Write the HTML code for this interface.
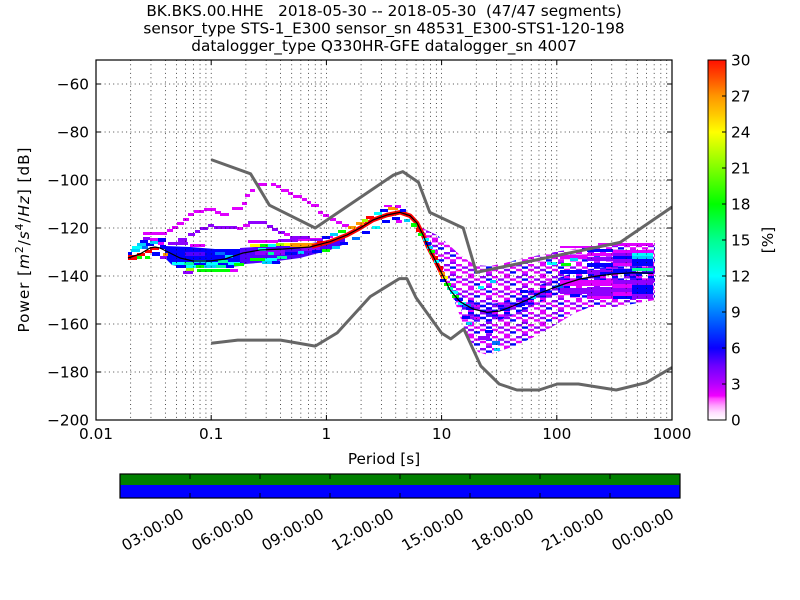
<!DOCTYPE html>
<html><head><meta charset="utf-8"><style>
html,body{margin:0;padding:0;background:#fff;}
svg{display:block;}
text{font-family:"DejaVu Sans","Liberation Sans",sans-serif;font-size:15.28px;fill:#000;white-space:pre;}
.m{fill:#e000ff}.p{fill:#8f00ff}.v{fill:#5000ff}.b{fill:#0000ff}.l{fill:#0070ff}.c{fill:#00d0ff}.cy{fill:#00ffff}.a{fill:#00ffa0}.g{fill:#00ff00}.yg{fill:#a0ff00}.y{fill:#ffff00}.o{fill:#ff9900}.r{fill:#ff0000}
.grid line{stroke:#111;stroke-width:0.75;stroke-dasharray:1,3.3;}
.tk line{stroke:#000;stroke-width:1;}
</style></head><body>
<svg width="800" height="600" viewBox="0 0 800 600" xmlns="http://www.w3.org/2000/svg">
<defs>
<clipPath id="ax"><rect x="96" y="60" width="576" height="360"/></clipPath>
<linearGradient id="cb" x1="0" y1="1" x2="0" y2="0">
<stop offset="0" stop-color="#ffffff"/><stop offset="0.02" stop-color="#ffe0ff"/><stop offset="0.04" stop-color="#ffa0ff"/><stop offset="0.06" stop-color="#ff40ff"/><stop offset="0.067" stop-color="#f000ff"/><stop offset="0.1" stop-color="#b400ff"/><stop offset="0.15" stop-color="#6e00ff"/><stop offset="0.2" stop-color="#0a00ff"/><stop offset="0.25" stop-color="#0040ff"/><stop offset="0.3" stop-color="#0080ff"/><stop offset="0.35" stop-color="#00c0ff"/><stop offset="0.4" stop-color="#00ffff"/><stop offset="0.45" stop-color="#00ffc8"/><stop offset="0.5" stop-color="#00ff90"/><stop offset="0.55" stop-color="#00ff48"/><stop offset="0.6" stop-color="#00ff00"/><stop offset="0.7" stop-color="#80ff00"/><stop offset="0.8" stop-color="#ffff00"/><stop offset="0.85" stop-color="#ffc800"/><stop offset="0.9" stop-color="#ff9600"/><stop offset="0.95" stop-color="#ff5000"/><stop offset="1" stop-color="#ff1000"/>
</linearGradient>
<pattern id="pf" width="36" height="12" patternUnits="userSpaceOnUse">
<rect x="0" y="0" width="6" height="2.4" fill="#e000ff"/><rect x="12" y="0" width="6" height="2.4" fill="#8f00ff"/><rect x="24" y="0" width="6" height="2.4" fill="#e000ff"/>
<rect x="6" y="2.4" width="6" height="2.4" fill="#e000ff"/><rect x="18" y="2.4" width="6" height="2.4" fill="#0000ff"/><rect x="30" y="2.4" width="6" height="2.4" fill="#8f00ff"/>
<rect x="0" y="4.8" width="6" height="2.4" fill="#8f00ff"/><rect x="12" y="4.8" width="6" height="2.4" fill="#e000ff"/><rect x="24" y="4.8" width="6" height="2.4" fill="#e000ff"/>
<rect x="6" y="7.2" width="6" height="2.4" fill="#0000ff"/><rect x="18" y="7.2" width="6" height="2.4" fill="#e000ff"/><rect x="30" y="7.2" width="6" height="2.4" fill="#e000ff"/>
<rect x="0" y="9.6" width="6" height="2.4" fill="#e000ff"/><rect x="18" y="9.6" width="6" height="2.4" fill="#8f00ff"/>
</pattern>
<pattern id="pb" width="36" height="12" patternUnits="userSpaceOnUse">
<rect x="0" y="0" width="6" height="2.4" fill="#0000ff"/><rect x="12" y="0" width="6" height="2.4" fill="#8f00ff"/><rect x="18" y="0" width="6" height="2.4" fill="#0000ff"/><rect x="24" y="0" width="6" height="2.4" fill="#e000ff"/>
<rect x="0" y="2.4" width="6" height="2.4" fill="#8f00ff"/><rect x="6" y="2.4" width="6" height="2.4" fill="#0000ff"/><rect x="18" y="2.4" width="6" height="2.4" fill="#5000ff"/><rect x="24" y="2.4" width="6" height="2.4" fill="#0000ff"/><rect x="30" y="2.4" width="6" height="2.4" fill="#e000ff"/>
<rect x="6" y="4.8" width="6" height="2.4" fill="#e000ff"/><rect x="12" y="4.8" width="6" height="2.4" fill="#0000ff"/><rect x="24" y="4.8" width="6" height="2.4" fill="#8f00ff"/><rect x="30" y="4.8" width="6" height="2.4" fill="#0000ff"/>
<rect x="0" y="7.2" width="6" height="2.4" fill="#0000ff"/><rect x="6" y="7.2" width="6" height="2.4" fill="#8f00ff"/><rect x="18" y="7.2" width="6" height="2.4" fill="#0000ff"/><rect x="30" y="7.2" width="6" height="2.4" fill="#5000ff"/>
<rect x="0" y="9.6" width="6" height="2.4" fill="#e000ff"/><rect x="12" y="9.6" width="6" height="2.4" fill="#0000ff"/><rect x="18" y="9.6" width="6" height="2.4" fill="#8f00ff"/><rect x="24" y="9.6" width="6" height="2.4" fill="#0000ff"/>
</pattern>
</defs>
<rect width="800" height="600" fill="#fff"/>

<!-- title -->
<text x="384" y="16" text-anchor="middle" xml:space="preserve">BK.BKS.00.HHE   2018-05-30 -- 2018-05-30  (47/47 segments)</text>
<text x="384" y="33.6" text-anchor="middle">sensor_type STS-1_E300 sensor_sn 48531_E300-STS1-120-198</text>
<text x="384" y="51.2" text-anchor="middle">datalogger_type Q330HR-GFE datalogger_sn 4007</text>

<g clip-path="url(#ax)">
<!-- fan region (long periods) -->
<polygon fill="url(#pf)" points="420,227 437,235 447,243 460,255 475,265 490,266 505,263 520,259 540,255 560,251 580,248 600,246 615,243 655,243 655,300 615,307 590,307 575,313 560,322 545,331 530,339 515,346 500,351 488,355 478,352 470,340 463,325 456,305 450,290 440,270 434,258 428,247"/>
<polygon fill="url(#pb)" points="455,290 470,300 487,304 500,303 513,298 527,292 540,285 553,280 567,275 580,271 597,268 613,266 655,266 655,282 613,281 597,284 580,287 567,291 553,296 540,302 527,309 513,315 500,320 487,322 473,320 462,312"/>

<!-- region A core -->
<polygon class="b" points="165,246 190,247 215,249 240,249 250,252 250,262 240,266 215,268 190,268 172,265 165,258"/>
<polygon class="v" points="240,248 270,246 300,245 330,240 345,236 345,244 330,250 300,258 270,262 245,264 240,262"/>
<rect class="p" x="255" y="250" width="30" height="5"/><rect class="b" x="285" y="252" width="12" height="3"/><rect class="p" x="300" y="247" width="20" height="4"/>
<rect class="r" x="128" y="255" width="9" height="5"/><rect class="r" x="137" y="253" width="8" height="3"/><rect class="g" x="137" y="256" width="5" height="3"/><rect class="b" x="128" y="252" width="4" height="3"/><rect class="c" x="131" y="249" width="9" height="3"/><rect class="cy" x="132" y="246" width="10" height="3"/><rect class="l" x="142" y="246" width="6" height="3"/><rect class="r" x="145" y="250" width="7" height="3"/><rect class="r" x="150" y="247" width="9" height="3"/><rect class="c" x="137" y="243" width="9" height="3"/><rect class="b" x="146" y="243" width="8" height="3"/><rect class="b" x="140" y="240" width="8" height="3"/><rect class="m" x="150" y="238" width="10" height="3"/><rect class="p" x="143" y="237" width="7" height="3"/><rect class="c" x="150" y="241" width="8" height="3"/><rect class="b" x="158" y="238" width="8" height="4"/><rect class="m" x="158" y="242" width="6" height="3"/><rect class="b" x="160" y="245" width="6" height="4"/><rect class="o" x="163" y="253" width="5" height="3"/><rect class="b" x="152" y="252" width="8" height="4"/><rect class="p" x="160" y="256" width="7" height="3"/><rect class="g" x="145" y="256" width="5" height="3"/>
<rect class="v" x="185" y="252" width="20" height="4"/><rect class="l" x="215" y="252" width="10" height="3"/><rect class="c" x="225" y="255" width="8" height="3"/>
<rect class="p" x="168" y="242" width="20" height="3"/><rect class="m" x="190" y="244" width="15" height="3"/><rect class="m" x="248" y="240" width="30" height="3"/><rect class="p" x="278" y="239" width="20" height="3"/><rect class="m" x="298" y="238" width="25" height="3"/><rect class="m" x="323" y="236" width="10" height="2"/>
<rect class="cy" x="258" y="248" width="8" height="3"/><rect class="a" x="268" y="252" width="6" height="3"/><rect class="c" x="298" y="251" width="6" height="3"/>
<!-- bottom fringe -->
<rect class="cy" x="172" y="262" width="12" height="3"/><rect class="a" x="184" y="262" width="10" height="3"/><rect class="c" x="194" y="260" width="12" height="3"/><rect class="cy" x="206" y="262" width="12" height="3"/><rect class="a" x="218" y="260" width="10" height="3"/><rect class="cy" x="228" y="262" width="12" height="3"/><rect class="b" x="176" y="265" width="10" height="3"/><rect class="cy" x="186" y="265" width="10" height="3"/><rect class="g" x="196" y="265" width="8" height="3"/><rect class="c" x="204" y="265" width="12" height="3"/><rect class="a" x="216" y="265" width="10" height="3"/><rect class="b" x="226" y="265" width="8" height="3"/><rect class="g" x="234" y="263" width="10" height="3"/>
<rect class="g" x="197" y="269" width="33" height="3"/><rect class="yg" x="186" y="268" width="8" height="3"/><rect class="p" x="183" y="271" width="10" height="3"/><rect class="m" x="230" y="269" width="8" height="3"/>
<rect class="g" x="250" y="258" width="15" height="3"/><rect class="cy" x="265" y="258" width="12" height="3"/><rect class="a" x="277" y="256" width="10" height="3"/><rect class="c" x="262" y="261" width="10" height="3"/><rect class="b" x="272" y="261" width="8" height="3"/>
<!-- top row of right part -->
<rect class="y" x="250" y="244" width="10" height="3"/><rect class="g" x="260" y="244" width="8" height="3"/><rect class="cy" x="268" y="244" width="8" height="3"/><rect class="yg" x="276" y="243" width="8" height="3"/><rect class="o" x="290" y="243" width="27" height="4"/><rect class="y" x="284" y="243" width="6" height="3"/><rect class="r" x="317" y="241" width="8" height="3"/>
<!-- upper outlier arch -->
<rect class="m" x="143" y="232" width="24" height="3"/><rect class="m" x="167" y="229" width="6" height="3"/><rect class="m" x="172" y="226" width="6" height="3"/><rect class="m" x="177" y="222" width="7" height="3"/><rect class="m" x="183" y="218" width="6" height="3"/><rect class="m" x="188" y="213" width="6" height="3"/><rect class="m" x="194" y="210" width="10" height="3"/><rect class="m" x="204" y="208" width="12" height="3"/><rect class="m" x="215" y="211" width="6" height="3"/><rect class="m" x="220" y="213" width="9" height="3"/><rect class="m" x="232" y="207" width="11" height="3"/><rect class="m" x="242" y="202" width="5" height="3"/><rect class="m" x="245" y="194" width="5" height="3"/><rect class="m" x="250" y="189" width="5" height="3"/><rect class="m" x="257" y="183" width="10" height="3"/><rect class="m" x="271" y="183" width="5" height="3"/><rect class="m" x="276" y="185" width="5" height="3"/><rect class="m" x="281" y="189" width="8" height="3"/><rect class="m" x="288" y="192" width="5" height="3"/><rect class="m" x="293" y="195" width="9" height="3"/><rect class="m" x="302" y="198" width="5" height="3"/><rect class="m" x="307" y="201" width="4" height="3"/><rect class="m" x="311" y="204" width="8" height="3"/><rect class="m" x="318" y="211" width="5" height="3"/><rect class="m" x="323" y="214" width="6" height="3"/><rect class="m" x="330" y="218" width="6" height="3"/><rect class="m" x="336" y="221" width="6" height="3"/><rect class="m" x="342" y="224" width="7" height="3"/><rect class="m" x="349" y="226" width="7" height="3"/>
<!-- second arch -->
<rect class="p" x="178" y="238" width="9" height="4"/><rect class="p" x="188" y="233" width="7" height="3"/><rect class="p" x="195" y="230" width="5" height="3"/><rect class="p" x="200" y="227" width="8" height="3"/><rect class="p" x="208" y="224" width="6" height="3"/><rect class="p" x="214" y="226" width="23" height="3"/><rect class="m" x="237" y="227" width="6" height="3"/><rect class="m" x="243" y="224" width="7" height="3"/><rect class="p" x="248" y="221" width="19" height="3"/><rect class="p" x="267" y="225" width="6" height="3"/><rect class="p" x="272" y="228" width="6" height="3"/><rect class="p" x="278" y="231" width="7" height="3"/><rect class="m" x="284" y="233" width="6" height="3"/><rect class="p" x="290" y="236" width="20" height="3"/><rect class="p" x="310" y="239" width="13" height="2"/>
<!-- microseism band -->
<polyline fill="none" stroke="#ff0000" stroke-width="4.5" stroke-linejoin="round" points="312,246.5 330,241.7 347,235 360,228 373,220 387,215 400,212.3 410,215.7 417,223 423,235 428,246.7 434,258 440,270 445,281"/>
<rect class="b" x="322" y="236" width="8" height="3"/><rect class="c" x="330" y="233" width="8" height="3"/><rect class="g" x="338" y="230" width="8" height="3"/><rect class="o" x="348" y="226" width="8" height="3"/><rect class="o" x="356" y="222" width="8" height="3"/><rect class="yg" x="362" y="219" width="6" height="3"/><rect class="r" x="366" y="216" width="8" height="3"/><rect class="cy" x="374" y="212" width="8" height="3"/><rect class="b" x="380" y="209" width="8" height="3"/><rect class="o" x="388" y="207" width="10" height="3"/><rect class="m" x="384" y="205" width="8" height="2"/><rect class="m" x="395" y="205" width="6" height="3"/><rect class="b" x="400" y="209" width="6" height="3"/>
<rect class="b" x="312" y="250" width="10" height="3"/><rect class="g" x="322" y="249" width="8" height="3"/><rect class="c" x="332" y="246" width="8" height="3"/><rect class="b" x="340" y="242" width="8" height="3"/><rect class="l" x="352" y="237" width="8" height="3"/><rect class="b" x="362" y="231" width="8" height="3"/><rect class="cy" x="372" y="226" width="8" height="3"/><rect class="b" x="382" y="220" width="8" height="3"/><rect class="b" x="392" y="217" width="8" height="3"/><rect class="m" x="396" y="220" width="6" height="3"/><rect class="c" x="404" y="219" width="6" height="3"/>
<!-- descent -->
<rect class="g" x="411" y="223" width="6" height="4"/><rect class="r" x="416" y="228" width="6" height="4"/><rect class="g" x="418" y="233" width="5" height="3"/><rect class="cy" x="423" y="238" width="6" height="3"/><rect class="b" x="425" y="242" width="6" height="3"/><rect class="c" x="427" y="246" width="6" height="3"/><rect class="g" x="429" y="250" width="6" height="3"/><rect class="r" x="432" y="256" width="6" height="4"/><rect class="cy" x="434" y="260" width="5" height="3"/><rect class="r" x="437" y="266" width="6" height="4"/><rect class="o" x="439" y="272" width="6" height="3"/><rect class="y" x="442" y="276" width="6" height="3"/><rect class="g" x="444" y="283" width="7" height="3"/><rect class="a" x="447" y="287" width="6" height="3"/><rect class="cy" x="450" y="291" width="8" height="3"/><rect class="g" x="452" y="295" width="7" height="3"/><rect class="b" x="455" y="298" width="8" height="3"/><rect class="cy" x="458" y="302" width="8" height="3"/><rect class="l" x="463" y="304" width="8" height="3"/><rect class="b" x="466" y="307" width="8" height="3"/><rect class="b" x="440" y="279" width="6" height="3"/>
<!-- right blocks -->
<rect class="m" x="598" y="243" width="55" height="3"/><rect class="m" x="560" y="246" width="38" height="2"/><rect class="m" x="613" y="250" width="40" height="3"/><rect class="b" x="587" y="249" width="26" height="3"/><rect class="p" x="613" y="253" width="19" height="3"/><rect class="cy" x="632" y="253" width="21" height="3"/><rect class="b" x="613" y="256" width="19" height="3"/><rect class="c" x="632" y="256" width="21" height="3"/><rect class="m" x="587" y="253" width="26" height="3"/><rect class="p" x="587" y="257" width="26" height="4"/><rect class="p" x="613" y="259" width="19" height="4"/><rect class="b" x="632" y="259" width="21" height="4"/><rect class="m" x="613" y="263" width="19" height="3"/><rect class="b" x="632" y="263" width="21" height="3"/><rect class="b" x="587" y="263" width="26" height="4"/><rect class="a" x="632" y="268" width="21" height="3"/><rect class="b" x="613" y="269" width="19" height="3"/><rect class="p" x="587" y="270" width="26" height="4"/><rect class="b" x="600" y="272" width="53" height="2"/><rect class="m" x="560" y="255" width="27" height="4"/><rect class="c" x="570" y="258" width="8" height="3"/><rect class="g" x="561" y="263" width="10" height="3"/><rect class="b" x="560" y="270" width="27" height="4"/>
<rect class="p" x="613" y="280" width="19" height="4"/><rect class="m" x="613" y="284" width="19" height="4"/><rect class="p" x="613" y="288" width="19" height="4"/><rect class="m" x="613" y="292" width="19" height="4"/><rect class="b" x="613" y="296" width="19" height="3"/><rect class="p" x="632" y="280" width="21" height="5"/><rect class="b" x="632" y="285" width="21" height="5"/><rect class="b" x="632" y="290" width="21" height="4"/><rect class="p" x="632" y="294" width="21" height="5"/><rect class="m" x="587" y="280" width="26" height="6"/><rect class="p" x="587" y="287" width="26" height="9"/><rect class="m" x="587" y="296" width="26" height="3"/><rect class="m" x="560" y="280" width="27" height="6"/><rect class="p" x="560" y="288" width="27" height="6"/><rect class="b" x="570" y="294" width="10" height="3"/>
<rect class="b" x="500" y="308" width="10" height="3"/><rect class="b" x="515" y="303" width="10" height="3"/><rect class="c" x="530" y="296" width="6" height="3"/><rect class="b" x="540" y="290" width="10" height="3"/><rect class="l" x="555" y="285" width="8" height="3"/><rect class="b" x="520" y="290" width="8" height="3"/><rect class="cy" x="478" y="286" width="6" height="3"/><rect class="c" x="490" y="280" width="6" height="3"/><rect class="cy" x="547" y="262" width="10" height="3"/><rect class="b" x="485" y="330" width="8" height="3"/><rect class="l" x="492" y="341" width="8" height="4"/><rect class="c" x="494" y="348" width="6" height="3"/><rect class="p" x="478" y="336" width="12" height="4"/><rect class="b" x="462" y="316" width="8" height="3"/><rect class="c" x="466" y="322" width="6" height="3"/>
</g>

<!-- grid -->
<g class="grid">
<line x1="130.68" y1="60" x2="130.68" y2="420"/><line x1="150.96" y1="60" x2="150.96" y2="420"/><line x1="165.36" y1="60" x2="165.36" y2="420"/><line x1="176.52" y1="60" x2="176.52" y2="420"/><line x1="185.64" y1="60" x2="185.64" y2="420"/><line x1="193.36" y1="60" x2="193.36" y2="420"/><line x1="200.04" y1="60" x2="200.04" y2="420"/><line x1="205.93" y1="60" x2="205.93" y2="420"/>
<line x1="211.2" y1="60" x2="211.2" y2="420"/><line x1="245.88" y1="60" x2="245.88" y2="420"/><line x1="266.16" y1="60" x2="266.16" y2="420"/><line x1="280.56" y1="60" x2="280.56" y2="420"/><line x1="291.72" y1="60" x2="291.72" y2="420"/><line x1="300.84" y1="60" x2="300.84" y2="420"/><line x1="308.56" y1="60" x2="308.56" y2="420"/><line x1="315.24" y1="60" x2="315.24" y2="420"/><line x1="321.13" y1="60" x2="321.13" y2="420"/>
<line x1="326.4" y1="60" x2="326.4" y2="420"/><line x1="361.08" y1="60" x2="361.08" y2="420"/><line x1="381.36" y1="60" x2="381.36" y2="420"/><line x1="395.76" y1="60" x2="395.76" y2="420"/><line x1="406.92" y1="60" x2="406.92" y2="420"/><line x1="416.04" y1="60" x2="416.04" y2="420"/><line x1="423.76" y1="60" x2="423.76" y2="420"/><line x1="430.44" y1="60" x2="430.44" y2="420"/><line x1="436.33" y1="60" x2="436.33" y2="420"/>
<line x1="441.6" y1="60" x2="441.6" y2="420"/><line x1="476.28" y1="60" x2="476.28" y2="420"/><line x1="496.56" y1="60" x2="496.56" y2="420"/><line x1="510.96" y1="60" x2="510.96" y2="420"/><line x1="522.12" y1="60" x2="522.12" y2="420"/><line x1="531.24" y1="60" x2="531.24" y2="420"/><line x1="538.96" y1="60" x2="538.96" y2="420"/><line x1="545.64" y1="60" x2="545.64" y2="420"/><line x1="551.53" y1="60" x2="551.53" y2="420"/>
<line x1="556.8" y1="60" x2="556.8" y2="420"/><line x1="591.48" y1="60" x2="591.48" y2="420"/><line x1="611.76" y1="60" x2="611.76" y2="420"/><line x1="626.16" y1="60" x2="626.16" y2="420"/><line x1="637.32" y1="60" x2="637.32" y2="420"/><line x1="646.44" y1="60" x2="646.44" y2="420"/><line x1="654.16" y1="60" x2="654.16" y2="420"/><line x1="660.84" y1="60" x2="660.84" y2="420"/><line x1="666.73" y1="60" x2="666.73" y2="420"/>
<line x1="96" y1="84" x2="672" y2="84"/><line x1="96" y1="132" x2="672" y2="132"/><line x1="96" y1="180" x2="672" y2="180"/><line x1="96" y1="228" x2="672" y2="228"/><line x1="96" y1="276" x2="672" y2="276"/><line x1="96" y1="324" x2="672" y2="324"/><line x1="96" y1="372" x2="672" y2="372"/>
</g>

<g clip-path="url(#ax)">
<polyline fill="none" stroke="#666" stroke-width="3" stroke-linejoin="round" points="211.2,159.6 250.6,173.8 269.4,205.2 315.2,228 393.2,175.2 402.8,171.6 418.5,182.4 429.8,212.4 463.2,228 476.3,272.4 620.2,242.4 672,207"/>
<polyline fill="none" stroke="#666" stroke-width="3" stroke-linejoin="round" points="211.2,343.2 237.7,340.1 280.6,340.1 315.2,346.1 337.2,332.9 370.2,296.6 399.4,278.6 406.9,278.6 416,297.6 441.6,333.1 450.7,338.9 463.8,329 480.8,366 499.2,384 516.9,390 539,390 557.3,384 578.4,384 616.2,390 646.4,382.6 672,367.5"/>
<polyline fill="none" stroke="#000" stroke-width="1.2" stroke-linejoin="round" points="128,258 140,254 150,248 155,247 160,248 170,253 180,258 193,261 210,261 225,259 243,253 260,250 283,249 310,247 330,241.7 347,235 360,228 373,220 387,215 400,212.3 410,215.7 417,223 423,235 428,246.7 434,258 440,270 450,290 460,301.7 473,309 487,312.3 500,311 513,306 527,300 540,293 553,288 567,283 580,279 597,276 613,274 633,272.7 653,273.3"/>
</g>

<!-- ticks -->
<g class="tk">
<line x1="96" y1="84" x2="101" y2="84"/><line x1="96" y1="132" x2="101" y2="132"/><line x1="96" y1="180" x2="101" y2="180"/><line x1="96" y1="228" x2="101" y2="228"/><line x1="96" y1="276" x2="101" y2="276"/><line x1="96" y1="324" x2="101" y2="324"/><line x1="96" y1="372" x2="101" y2="372"/>
<line x1="672" y1="84" x2="667" y2="84"/><line x1="672" y1="132" x2="667" y2="132"/><line x1="672" y1="180" x2="667" y2="180"/><line x1="672" y1="228" x2="667" y2="228"/><line x1="672" y1="276" x2="667" y2="276"/><line x1="672" y1="324" x2="667" y2="324"/><line x1="672" y1="372" x2="667" y2="372"/>
<line x1="211.2" y1="420" x2="211.2" y2="415"/><line x1="326.4" y1="420" x2="326.4" y2="415"/><line x1="441.6" y1="420" x2="441.6" y2="415"/><line x1="556.8" y1="420" x2="556.8" y2="415"/>
<line x1="211.2" y1="60" x2="211.2" y2="65"/><line x1="326.4" y1="60" x2="326.4" y2="65"/><line x1="441.6" y1="60" x2="441.6" y2="65"/><line x1="556.8" y1="60" x2="556.8" y2="65"/>
</g>
<rect x="96" y="60" width="576" height="360" fill="none" stroke="#000" stroke-width="1.2"/>

<!-- y tick labels -->
<text x="89" y="89.5" text-anchor="end">−60</text>
<text x="89" y="137.5" text-anchor="end">−80</text>
<text x="89" y="185.5" text-anchor="end">−100</text>
<text x="89" y="233.5" text-anchor="end">−120</text>
<text x="89" y="281.5" text-anchor="end">−140</text>
<text x="89" y="329.5" text-anchor="end">−160</text>
<text x="89" y="377.5" text-anchor="end">−180</text>
<text x="89" y="425.5" text-anchor="end">−200</text>
<!-- x tick labels -->
<text x="96" y="439" text-anchor="middle">0.01</text>
<text x="211.2" y="439" text-anchor="middle">0.1</text>
<text x="326.4" y="439" text-anchor="middle">1</text>
<text x="441.6" y="439" text-anchor="middle">10</text>
<text x="556.8" y="439" text-anchor="middle">100</text>
<text x="672" y="439" text-anchor="middle">1000</text>
<text x="384" y="464" text-anchor="middle">Period [s]</text>
<text transform="translate(29,240) rotate(-90)" text-anchor="middle" textLength="185" lengthAdjust="spacing">Power [<tspan font-style="italic">m</tspan><tspan font-size="10.7" dy="-6">2</tspan><tspan dy="6">/</tspan><tspan font-style="italic">s</tspan><tspan font-size="10.7" dy="-6">4</tspan><tspan dy="6">/</tspan><tspan font-style="italic">Hz</tspan>] [dB]</text>

<!-- colorbar -->
<rect x="708" y="60" width="18" height="360" fill="url(#cb)" stroke="#000" stroke-width="1"/>
<g class="tk">
<line x1="726" y1="384" x2="722" y2="384"/><line x1="726" y1="348" x2="722" y2="348"/><line x1="726" y1="312" x2="722" y2="312"/><line x1="726" y1="276" x2="722" y2="276"/><line x1="726" y1="240" x2="722" y2="240"/><line x1="726" y1="204" x2="722" y2="204"/><line x1="726" y1="168" x2="722" y2="168"/><line x1="726" y1="132" x2="722" y2="132"/><line x1="726" y1="96" x2="722" y2="96"/>
</g>
<text x="731" y="425.5">0</text>
<text x="731" y="389.5">3</text>
<text x="731" y="353.5">6</text>
<text x="731" y="317.5">9</text>
<text x="731" y="281.5">12</text>
<text x="731" y="245.5">15</text>
<text x="731" y="209.5">18</text>
<text x="731" y="173.5">21</text>
<text x="731" y="137.5">24</text>
<text x="731" y="101.5">27</text>
<text x="731" y="65.5">30</text>
<text transform="translate(773,240) rotate(-90)" text-anchor="middle">[%]</text>

<!-- timeline bar -->
<rect x="120" y="474" width="560" height="11" fill="#008000"/>
<rect x="120" y="485" width="560" height="13" fill="#0000ff"/>
<rect x="120" y="474" width="560" height="24" fill="none" stroke="#000" stroke-width="1.2"/>
<g class="tk">
<line x1="190" y1="474" x2="190" y2="479"/><line x1="260" y1="474" x2="260" y2="479"/><line x1="330" y1="474" x2="330" y2="479"/><line x1="400" y1="474" x2="400" y2="479"/><line x1="470" y1="474" x2="470" y2="479"/><line x1="540" y1="474" x2="540" y2="479"/><line x1="610" y1="474" x2="610" y2="479"/>
<line x1="190" y1="498" x2="190" y2="493"/><line x1="260" y1="498" x2="260" y2="493"/><line x1="330" y1="498" x2="330" y2="493"/><line x1="400" y1="498" x2="400" y2="493"/><line x1="470" y1="498" x2="470" y2="493"/><line x1="540" y1="498" x2="540" y2="493"/><line x1="610" y1="498" x2="610" y2="493"/>
</g>
<text x="185" y="517" text-anchor="end" transform="rotate(-30 185 517)">03:00:00</text>
<text x="255" y="517" text-anchor="end" transform="rotate(-30 255 517)">06:00:00</text>
<text x="325" y="517" text-anchor="end" transform="rotate(-30 325 517)">09:00:00</text>
<text x="395" y="517" text-anchor="end" transform="rotate(-30 395 517)">12:00:00</text>
<text x="465" y="517" text-anchor="end" transform="rotate(-30 465 517)">15:00:00</text>
<text x="535" y="517" text-anchor="end" transform="rotate(-30 535 517)">18:00:00</text>
<text x="605" y="517" text-anchor="end" transform="rotate(-30 605 517)">21:00:00</text>
<text x="675" y="517" text-anchor="end" transform="rotate(-30 675 517)">00:00:00</text>
</svg>
</body></html>
